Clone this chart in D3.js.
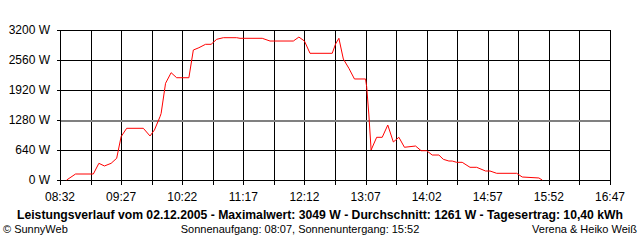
<!DOCTYPE html>
<html>
<head>
<meta charset="utf-8">
<title>Leistungsverlauf</title>
<script src="https://cdn.jsdelivr.net/npm/d3@7"></script>
<style>
  body { margin: 0; background: #fff; }
  text { font-family: "Liberation Sans", Arial, sans-serif; }
</style>
</head>
<body>
<script>
    var times = ["08:38","08:46","09:02","09:07","09:12","09:18","09:23","09:27","09:32","09:47",
                 "09:53","09:57","10:02","10:03","10:07","10:12","10:17","10:28","10:32","10:37",
                 "10:43","10:48","10:53","10:59","11:11","11:14","11:34","11:41","12:02","12:07",
                 "12:12","12:17","12:37","12:40","12:43","12:47","12:52","12:57","13:07","13:08",
                 "13:10","13:12","13:17","13:22","13:27","13:32","13:37","13:42","13:52","13:57",
                 "14:02","14:07","14:13","14:17","14:22","14:25","14:29","14:34","14:41","14:47",
                 "14:55","14:59","15:05","15:23","15:28","15:43","15:46"];
    var watts = [0, 128, 128, 356, 299, 356, 463, 924, 1103, 1103,
                 939, 1067, 1350, 1420, 2063, 2289, 2182, 2182, 2773, 2822,
                 2895, 2895, 3001, 3036, 3036, 3023, 3023, 2965, 2965, 3049,
                 2965, 2703, 2703, 2901, 3023, 2581, 2383, 2155, 2155, 1990,
                 1387, 640, 911, 911, 1173, 811, 911, 698, 725, 625,
                 625, 533, 533, 441, 405, 405, 377, 377, 271, 271,
                 192, 192, 143, 143, 64, 43, 0];
    var yTicks = [0, 640, 1280, 1920, 2560, 3200];
    var average = 1261;
    var startTime = "08:32", endTime = "16:47";
    var gridStep = 27.5; // Minuten

    var title = "Leistungsverlauf vom 02.12.2005 - Maximalwert: 3049 W - Durchschnitt: 1261 W - Tagesertrag: 10,40 kWh";
    var footLeft = "\u00a9 SunnyWeb";
    var footMid = "Sonnenaufgang: 08:07, Sonnenuntergang: 15:52";
    var footRight = "Verena & Heiko Wei\u00df";

    var width = 640, height = 240;
    var padding = {top: 30, right: 30, bottom: 60, left: 60};

    var parse = d3.timeParse("%H:%M");
    var fmt = d3.timeFormat("%H:%M");

    var svg = d3.select("body").append("svg")
        .attr("width", width)
        .attr("height", height);

    var x = d3.scaleTime()
        .domain([parse(startTime), parse(endTime)])
        .range([padding.left, width - padding.right]);
    var y = d3.scaleLinear()
        .domain([0, 3200])
        .range([height - padding.bottom, padding.top]);

    var t0 = parse(startTime).getTime();
    var xTicks = d3.range(19).map(function(i){ return new Date(t0 + i * gridStep * 60000); });

    // Gitter
    var grid = svg.append("g").attr("shape-rendering", "crispEdges");
    grid.selectAll("line.v").data(xTicks).enter().append("line")
        .attr("x1", function(d){ return Math.round(x(d)) + 0.5; })
        .attr("x2", function(d){ return Math.round(x(d)) + 0.5; })
        .attr("y1", y(3200))
        .attr("y2", y(0) + 5)
        .attr("stroke", "#000");
    grid.selectAll("line.h").data(yTicks).enter().append("line")
        .attr("x1", padding.left - 3)
        .attr("x2", x(parse(endTime)) + 1)
        .attr("y1", function(d){ return Math.round(y(d)) + 0.5; })
        .attr("y2", function(d){ return Math.round(y(d)) + 0.5; })
        .attr("stroke", "#000");

    // Durchschnittslinie
    svg.append("line")
        .attr("shape-rendering", "crispEdges")
        .attr("x1", padding.left + 1)
        .attr("x2", x(parse(endTime)))
        .attr("y1", Math.round(y(average)))
        .attr("y2", Math.round(y(average)))
        .attr("stroke", "#808080")
        .attr("stroke-width", 2);

    // Achsenbeschriftung
    svg.selectAll("text.y").data(yTicks).enter().append("text")
        .attr("x", padding.left - 10)
        .attr("y", function(d){ return y(d); })
        .attr("dy", "0.35em")
        .attr("text-anchor", "end")
        .attr("font-size", "12px")
        .text(function(d){ return d + " W"; });

    svg.selectAll("text.x").data(xTicks.filter(function(d, i){ return i % 2 == 0; })).enter().append("text")
        .attr("x", function(d){ return x(d); })
        .attr("y", 197)
        .attr("dy", "0.35em")
        .attr("text-anchor", "middle")
        .attr("font-size", "12px")
        .text(function(d){ return fmt(d); });

    // Kurve
    var data = times.map(function(t, i){ return {t: parse(t), v: watts[i]}; });
    var line = d3.line()
        .x(function(d){ return x(d.t); })
        .y(function(d){ return y(d.v); });
    svg.append("path")
        .datum(data)
        .attr("d", line)
        .attr("fill", "none")
        .attr("stroke", "#ff0000")
        .attr("stroke-width", 1);

    // Titel und Fusszeile
    svg.append("text")
        .attr("x", 320).attr("y", 219)
        .attr("text-anchor", "middle")
        .attr("font-size", "12.2px")
        .attr("font-weight", "bold")
        .text(title);
    svg.append("text")
        .attr("x", 3).attr("y", 233)
        .attr("font-size", "11px")
        .text(footLeft);
    svg.append("text")
        .attr("x", 300).attr("y", 233)
        .attr("text-anchor", "middle")
        .attr("font-size", "11px")
        .text(footMid);
    svg.append("text")
        .attr("x", 637).attr("y", 233)
        .attr("text-anchor", "end")
        .attr("font-size", "11px")
        .text(footRight);
</script>
</body>
</html>
